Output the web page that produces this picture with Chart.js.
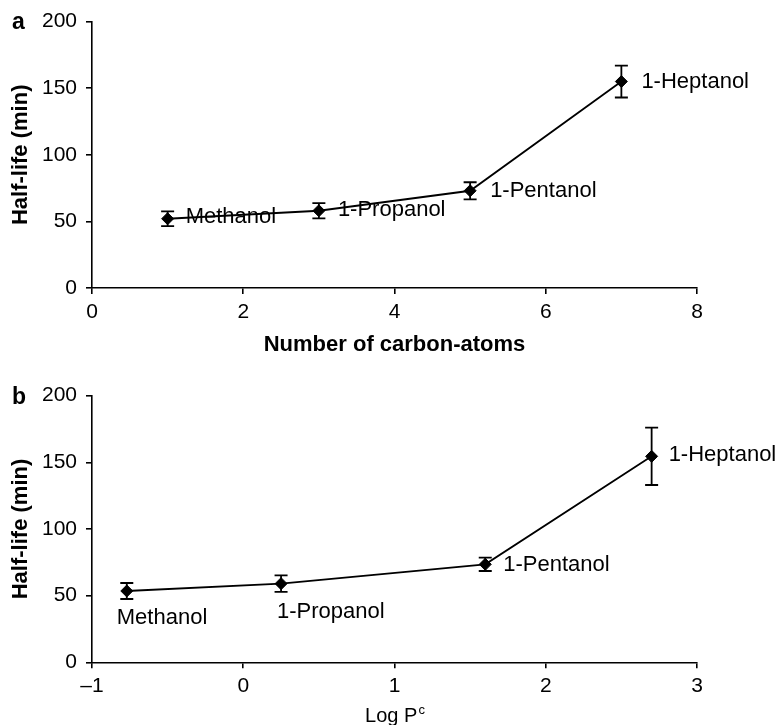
<!DOCTYPE html>
<html>
<head>
<meta charset="utf-8">
<script src="https://cdn.jsdelivr.net/npm/chart.js@4.4.1/dist/chart.umd.min.js"></script>
<style>
  body { margin: 0; background: #fff; }
  .wrap { position: absolute; left: 0; width: 776px; }
  #wrapA { top: 0; height: 362px; }
  #wrapB { top: 362px; height: 363px; }
</style>
</head>
<body>
<div class="wrap" id="wrapA"><canvas id="chartA"></canvas></div>
<div class="wrap" id="wrapB"><canvas id="chartB"></canvas></div>
<script>
'use strict';

// data
const names = ['Methanol', '1-Propanol', '1-Pentanol', '1-Heptanol'];
const carbonAtoms = [1, 3, 5, 7];
const halfLifeA = [52, 58, 73, 155];
const errorA = [5.5, 5.7, 6.4, 12];
const logP = [-0.77, 0.25, 1.6, 2.7];
const halfLifeB = [53.5, 59, 73.5, 154.5];
const errorB = [6, 6.2, 5, 21.5];
const yTicks = [0, 50, 100, 150, 200];
const xTicksA = [0, 2, 4, 6, 8];
const xTicksB = [-1, 0, 1, 2, 3];

// where each name sits relative to its point (px)
const labelOffsetA = [[18, -2], [19, -1], [20, 0], [20, 0]];
const labelOffsetB = [[-10, 27], [-4, 28], [18, 1], [17, -1]];

const FONT = '"Liberation Sans", Arial, Helvetica, sans-serif';

Chart.defaults.font.family = FONT;
Chart.defaults.color = '#000';

const errorBars = {
  id: 'errorBars',
  beforeDatasetsDraw(chart, args, opts) {
    const ctx = chart.ctx;
    const x = chart.scales.x, y = chart.scales.y;
    ctx.save();
    ctx.strokeStyle = '#000';
    ctx.lineWidth = 1.8;
    for (let i = 0; i < opts.xs.length; i++) {
      const px = x.getPixelForValue(opts.xs[i]);
      const top = y.getPixelForValue(opts.ys[i] + opts.err[i]);
      const bot = y.getPixelForValue(opts.ys[i] - opts.err[i]);
      ctx.beginPath();
      ctx.moveTo(px, top); ctx.lineTo(px, bot);
      ctx.moveTo(px - 6.5, top); ctx.lineTo(px + 6.5, top);
      ctx.moveTo(px - 6.5, bot); ctx.lineTo(px + 6.5, bot);
      ctx.stroke();
    }
    ctx.restore();
  }
};

const pointNames = {
  id: 'pointNames',
  afterDatasetsDraw(chart, args, opts) {
    const ctx = chart.ctx;
    const x = chart.scales.x, y = chart.scales.y;
    ctx.save();
    ctx.fillStyle = '#000';
    ctx.font = '22px ' + FONT;
    ctx.textAlign = 'left';
    ctx.textBaseline = 'middle';
    for (let i = 0; i < names.length; i++) {
      const px = x.getPixelForValue(opts.xs[i]) + opts.offsets[i][0];
      const py = y.getPixelForValue(opts.ys[i]) + opts.offsets[i][1];
      ctx.fillText(names[i], px, py);
    }
    ctx.restore();
  }
};

const panelLetter = {
  id: 'panelLetter',
  afterDraw(chart, args, opts) {
    const ctx = chart.ctx;
    ctx.save();
    ctx.fillStyle = '#000';
    ctx.font = 'bold 23px ' + FONT;
    ctx.textBaseline = 'alphabetic';
    ctx.fillText(opts.text, 12, opts.y);
    if (opts.xTitle) {
      // x title with superscript
      const cx = (chart.chartArea.left + chart.chartArea.right) / 2;
      ctx.font = '20px ' + FONT;
      const w1 = ctx.measureText('Log P').width;
      ctx.font = '13px ' + FONT;
      const w2 = ctx.measureText('c').width;
      const start = cx - (w1 + w2) / 2;
      ctx.font = '20px ' + FONT;
      ctx.fillText('Log P', start, opts.xTitleY);
      ctx.font = '13px ' + FONT;
      ctx.fillText('c', start + w1 + 1, opts.xTitleY - 8);
    }
    ctx.restore();
  }
};

function makeChart(id, xs, ys, errs, xTicks, cfg) {
  return new Chart(document.getElementById(id), {
    type: 'scatter',
    data: {
      datasets: [{
        data: xs.map((v, i) => ({ x: v, y: ys[i] })),
        showLine: true,
        borderColor: '#000',
        borderWidth: 1.8,
        backgroundColor: '#000',
        pointStyle: 'rectRot',
        pointRadius: 6,
        pointBorderWidth: 1,
        tension: 0
      }]
    },
    options: {
      responsive: true,
      maintainAspectRatio: false,
      animation: false,
      layout: { padding: { left: 0, right: 79, top: cfg.padTop, bottom: 0 } },
      plugins: {
        legend: { display: false },
        tooltip: { enabled: false },
        errorBars: { xs: xs, ys: ys, err: errs },
        pointNames: { xs: xs, ys: ys, offsets: cfg.offsets },
        panelLetter: { text: cfg.letter, y: cfg.letterY, xTitle: cfg.logTitle, xTitleY: cfg.xTitleY }
      },
      scales: {
        x: {
          type: 'linear',
          min: xTicks[0],
          max: xTicks[xTicks.length - 1],
          afterFit: s => { s.height = cfg.xHeight; },
          afterBuildTicks: s => { s.ticks = xTicks.map(v => ({ value: v })); },
          grid: { drawOnChartArea: false, drawTicks: true, tickLength: 6, color: '#000', lineWidth: 1.6 },
          border: { display: true, color: '#000', width: 1.6 },
          ticks: {
            padding: cfg.xTickPad,
            font: { size: 21 },
            color: '#000',
            callback: v => v < 0 ? '\u2013' + Math.abs(v) : String(v)
          },
          title: {
            display: !cfg.logTitle,
            text: 'Number of carbon-atoms',
            font: { size: 22, weight: 'bold', lineHeight: 1.2 },
            color: '#000',
            padding: { top: 0, bottom: 4 }
          }
        },
        y: {
          min: 0,
          max: 200,
          afterFit: s => { s.width = 92; },
          afterBuildTicks: s => { s.ticks = yTicks.map(v => ({ value: v })); },
          grid: { drawOnChartArea: false, drawTicks: true, tickLength: 6, color: '#000', lineWidth: 1.6 },
          border: { display: true, color: '#000', width: 1.6 },
          ticks: { padding: 9, font: { size: 21 }, color: '#000' },
          title: {
            display: true,
            text: 'Half-life (min)',
            font: { size: 22, weight: 'bold', lineHeight: 1.2 },
            color: '#000',
            padding: { top: 8, bottom: 0 }
          }
        }
      }
    },
    plugins: [errorBars, pointNames, panelLetter]
  });
}

makeChart('chartA', carbonAtoms, halfLifeA, errorA, xTicksA, {
  padTop: 21, xHeight: 74, xTickPad: 6, offsets: labelOffsetA,
  letter: 'a', letterY: 29, logTitle: false
});

makeChart('chartB', logP, halfLifeB, errorB, xTicksB, {
  padTop: 33.7, xHeight: 62.7, xTickPad: 5, offsets: labelOffsetB,
  letter: 'b', letterY: 42, logTitle: true, xTitleY: 360
});
</script>
</body>
</html>
